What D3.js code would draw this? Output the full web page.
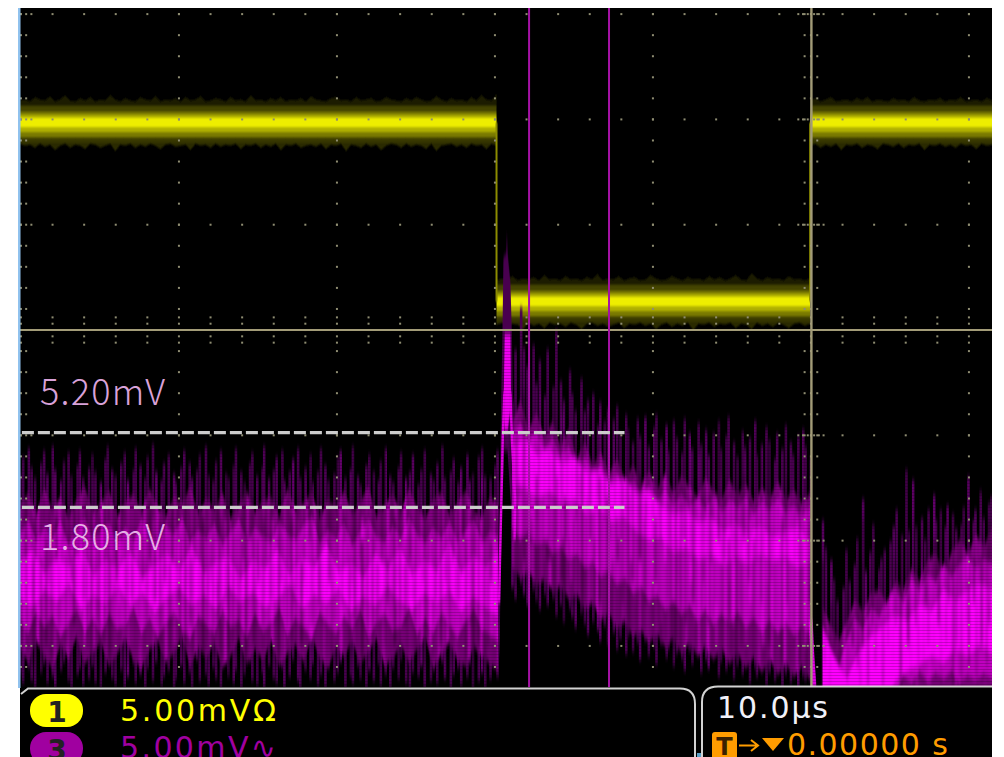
<!DOCTYPE html>
<html>
<head>
<meta charset="utf-8">
<script src="https://cdn.jsdelivr.net/npm/d3@7"></script>
<style>
html, body { margin: 0; background: #fff; overflow: hidden; }
svg { display: block; }
</style>
</head>
<body>
<svg id="scope"></svg>
<script>
// time is in us from the trigger, voltage is in mV above the bottom of the screen

// channel 1: flat levels, and how far the noise reaches above / below each level
const ch1High = 26.8;
const ch1Low = 18.3;
const ch1EdgeTimes = [-19.9, -0.05];
const ch1AUp = [1.05,1.1,1.0,1.2,1.1,1.05,1.25,1.0,1.1,1.3,1.05,1.0,1.15,1.05,1.2,1.0,1.1,1.05,1.3,1.1,1.0,1.15,1.05,1.0,1.2,1.1,1.05,1.25,1.0,1.1,1.05,1.15,1.0,1.2,1.05,1.1,1.25,1.0,1.05,1.15,1.1,1.0,1.2,1.05,1.1,1.0,1.3,1.05,1.1,1.0,1.15,1.05,1.2,1.0,1.1,1.05,1.15,1.0,1.25,1.1,1.05,1.0,1.15,1.2,1.05,1.1,1.0,1.2,1.05,1.1,1.15,1.0,1.05,1.2,1.1,1.05,1.0,1.15,1.05,1.2,1.1,1.0,1.05,1.25,1.1,1.0,1.15,1.05,1.1,1.0,1.2,1.05,1.3,1.1,1.05,1.35];
const ch1ADown = [1.0,1.1,1.05,1.2,1.0,1.15,1.05,1.3,1.1,1.0,1.2,1.05,1.1,1.25,1.0,1.05,1.2,1.1,1.0,1.35,1.05,1.1,1.0,1.2,1.05,1.15,1.0,1.1,1.25,1.05,1.0,1.15,1.1,1.05,1.3,1.0,1.1,1.05,1.2,1.0,1.15,1.05,1.1,1.0,1.25,1.05,1.1,1.0,1.2,1.05,1.15,1.0,1.3,1.05,1.1,1.0,1.2,1.1,1.05,1.15,1.0,1.25,1.05,1.1,1.0,1.35,1.05,1.1,1.2,1.0,1.15,1.05,1.3,1.1,1.0,1.05,1.2,1.0,1.15,1.05,1.1,1.25,1.0,1.35,1.1,1.05,1.0,1.15,1.05,1.2,1.0,1.1,1.05,1.25,1.0,1.1];
const ch1BUp = [1.0,1.1,1.05,1.2,1.0,1.1,1.05,1.15,1.0,1.25,1.05,1.1,1.0,1.2,1.05,1.1,1.0,1.15,1.05,1.3,1.0,1.1,1.05,1.2,1.0,1.1,1.15,1.0,1.05,1.25,1.1,1.0,1.05,1.2,1.1,1.0,1.15,1.05,1.1,1.0,1.2,1.05,1.15,1.0,1.1,1.25,1.05,1.0,1.35,1.1,1.0,1.15,1.05,1.1,1.0,1.2,1.05,1.1,1.0,1.1];
const ch1BDown = [1.1,1.0,1.2,1.05,1.1,1.3,1.0,1.15,1.05,1.25,1.0,1.1,1.05,1.2,1.0,1.1,1.3,1.05,1.0,1.15,1.05,1.2,1.1,1.0,1.25,1.05,1.1,1.0,1.15,1.05,1.3,1.1,1.0,1.2,1.05,1.15,1.0,1.35,1.05,1.1,1.0,1.2,1.05,1.1,1.0,1.25,1.05,1.1,1.3,1.0,1.15,1.05,1.2,1.0,1.1,1.25,1.05,1.0,1.15,1.05];
const ch1CUp = [1.05,1.15,1.0,1.1,1.2,1.0,1.05,1.1,1.0,1.15,1.05,1.2,1.0,1.1,1.05,1.0,1.15,1.05,1.1,1.0,1.2,1.05,1.0,1.1,1.05,1.15,1.0,1.1,1.05,1.2,1.0,1.05,1.1,1.0,1.15,1.05];
const ch1CDown = [1.1,1.0,1.2,1.05,1.15,1.0,1.3,1.05,1.1,1.0,1.2,1.05,1.1,1.25,1.0,1.05,1.15,1.0,1.2,1.05,1.1,1.0,1.3,1.05,1.1,1.0,1.15,1.05,1.2,1.0,1.1,1.05,1.25,1.0,1.1,1.05];

// channel 3, before the edge: four persistence levels, outer (faint) to core (bright)
const aOuterTop = [10.2,10.9,11.3,10.4,9.9,10.6,11.2,10.1,11.4,10.3,9.8,10.7,11.1,10.0,10.5,11.2,9.9,10.4,11.0,10.2,9.7,10.8,11.4,10.3,10.0,10.6,11.1,9.8,10.3,11.3,10.5,9.9,10.9,11.5,10.2,9.8,10.6,11.0,10.1,9.7,10.4,11.2,10.6,9.9,10.3,11.0,11.4,10.0,9.8,10.7,11.2,10.1,9.9,10.5,11.3,10.2,9.7,10.6,11.1,10.0,10.4,11.4,9.9,10.3,10.9,11.2,9.8,10.2,10.8,11.3,9.9,10.4,11.0,9.7,10.2,11.3,10.5,9.8,10.1,10.9,11.2,9.9,10.3,11.4,10.0,9.6,10.5,11.0,10.2,9.8,10.7,11.3,10.0,9.7,10.4,11.1,9.9,10.2,11.0,9.6,10.3,11.2,10.1,9.8,10.6,11.4,9.9,10.2,10.8,9.7,10.4,11.0,9.8,10.1,10.9,11.3,10.0,9.9,10.5,11.2];
const aOuterBot = [0.6,0.2,0.9,0.3,0,0.7,1.1,0.2,0.5,0,0.8,1.2,0.3,0,0.6,0.9,0.1,0.4,1.0,0.2,0,0.7,1.3,0.4,0.1,0.8,0,0.5,1.1,0.2,0.6,0,0.9,0.3,1.2,0.1,0.5,0.8,0,0.4,1.0,0.2,0.7,0,1.3,0.3,0.6,0.1,0.9,0.4,0,1.1,0.5,0.2,0.8,0,0.6,1.2,0.3,0.1,0.7,0,1.0,0.4,0.2,0.9,0,0.5,1.3,0.3,0,0.8,0.4,1.1,0.1,0.6,0,0.9,0.3,0.7,1.2,0,0.5,0.2,1.0,0.4,0,0.8,0.3,1.1,0.1,0.6,0,0.9,0.4,1.3,0.2,0,0.7,0.5,1.0,0,0.3,0.8,0.2,1.2,0.4,0,0.6,0.9,0.1,0.5,1.1,0,0.3,0.7,0,0.4,1.4,0.5];
const aMidTop = [8.6,9.2,8.2,9.4,8.4,9.0,8.0,8.9,9.5,8.3,8.7,9.3,8.1,8.8,9.1,8.3,9.4,8.5,8.1,9.0,8.7,9.5,8.2,8.9,8.4,9.2,8.0,8.6,9.3,8.3,8.8,9.0,8.1,9.4,8.4,8.7,9.2,8.0,8.9,8.5,9.3,8.2,8.8,9.5,8.1,8.6,9.1,8.3,9.4,8.5,8.0,8.9,9.2,8.2,8.7,9.3,8.4,8.0,9.0,8.6];
const aHighTop = [7.2,7.9,6.9,7.5,7.0,7.8,6.7,7.4,8.0,6.9,7.3,7.7,6.8,7.5,6.9,7.9,7.1,6.7,7.6,7.2,8.0,6.8,7.4,7.0,7.7,6.7,7.3,7.9,6.9,7.5,7.1,6.8,7.8,7.2,6.9,7.6,8.1,6.8,7.4,7.0,7.7,6.7,7.3,7.9,7.1,6.8,7.6,7.0,8.0,7.2,6.8,7.5,7.0,7.8,6.9,7.4,7.9,6.8,7.3,7.1];
const aCoreTop = [5.9,6.5,5.4,6.1,5.7,6.6,5.3,6.0,5.6,6.4,5.2,5.8,6.3,5.5,6.7,5.4,5.9,6.2,5.1,6.0,5.6,6.5,5.3,6.1,5.7,6.8,5.4,5.9,5.2,6.3,5.6,6.6,5.3,6.0,5.5,6.9,5.4,6.2,5.7,6.4];
const aCoreBot = [4.2,3.8,4.6,4.1,4.9,3.7,4.4,4.0,4.8,3.9,4.5,3.6,4.3,4.7,3.9,4.4,3.7,4.8,4.1,4.5,3.8,4.2,4.9,3.7,4.4,4.0,4.7,3.6,4.3,3.9,4.8,4.1,3.7,4.5,4.0,4.6,3.6,4.3,3.8,3.4];
const aHighBot = [3.2,2.6,3.6,2.9,3.4,2.4,3.1,3.7,2.7,3.3,2.5,3.5,2.8,3.0,3.8,2.6,3.3,2.4,3.1,3.6,2.8,2.3,3.4,3.0,2.6,3.7,2.9,3.2,2.4,3.5,2.7,3.1,3.8,2.5,3.3,2.9,2.3,3.6,3.0,2.6,3.4,2.8,3.7,2.4,3.1,3.5,2.7,2.9,3.8,2.5,3.3,2.6,3.6,3.0,2.4,3.2,3.7,2.8,2.5,2.2];
const aMidBot = [1.9,1.2,2.2,1.5,0.9,2.0,1.4,2.4,1.1,1.7,2.1,1.0,1.6,2.3,1.3,0.9,1.8,2.2,1.2,1.6,2.4,1.0,1.9,1.4,2.1,0.9,1.5,2.3,1.1,1.8,1.3,2.2,1.0,1.6,2.0,1.2,2.4,1.4,0.9,1.9,1.5,2.2,1.1,1.7,2.3,1.0,1.4,2.0,1.2,1.8,2.4,0.9,1.6,2.1,1.3,1.0,1.9,1.5,1.1,0.8];

// channel 3, relaxing after the edge
const bOuterTop = [13.6,16.0,18.0,16.1,15.2,16.2,14.4,15.5,13.8,16.0,14.2,16.9,14.5,13.6,15.0,13.9,13.1,14.6,13.1,13.6,13.9,12.4,13.5,12.6,13.2,12.7,13.3,12.0,12.9,12.2,11.6,12.7,11.9,12.8,11.4,12.3,12.9,11.7,12.4,11.2,12.6,11.8,11.1,12.7,12.0,11.3,12.5,11.5,12.2,11.0,12.0,12.6,11.3,11.9,12.8,11.6,10.9,12.1,11.4,11.8,12.6,11.0,11.5,12.3,11.7,10.8,12.0,11.3,12.4,11.6,11.0,11.9,12.2,11.4,10.9];
const bOuterBot = [4.7,4.2,4.9,4.4,3.9,4.6,4.1,3.7,4.4,3.9,4.2,3.4,3.9,3.1,3.7,3.3,2.8,3.5,3.0,2.5,3.1,2.7,2.2,2.9,2.0,2.6,1.8,2.3,1.6,2.4,1.7,2.1,1.3,2.2,1.5,1.9,1.1,2.0,1.4,1.8,1.0,1.6,1.3,0.8,1.7,1.1,1.5,0.7,1.3,0.9,1.6,0.5,1.2,0.8,1.4,0.4,1.0,0.6,1.2,0.2,0.9,0.5,1.1,0.1,0.7,0.3,0.9,0,0.6,0.2,0.8,0,0.5,0.3,0.7];
const bMidTop = [12.5,13.6,12.2,13.0,11.8,12.6,11.4,12.2,10.8,11.6,10.5,11.1,10.1,10.8,9.8,10.5,9.6,10.2,9.4,10.1,9.2,10.0,9.5,9.0,9.9,9.3,8.9,9.8,9.1,9.6,8.8,9.4,9.0,9.7,8.9,9.3,8.7,9.2];
const bHighTop = [12.0,12.5,11.7,12.1,11.3,11.8,10.9,11.4,10.4,10.9,10.1,10.5,9.7,10.1,9.3,9.8,9.1,9.5,8.8,9.3,8.6,9.1,8.5,8.9,8.4,9.0,8.3,8.8,8.5,9.0,8.2,8.7,8.4,8.9,8.3,8.6,8.1,8.5];
const bCoreTop = [11.4,11.8,11.0,11.3,10.6,10.9,10.2,10.3,9.6,9.9,9.2,9.3,8.6,8.2,8.4,7.8,8.0,7.4,7.7,7.3,7.6,7.1,7.4,7.5,7.0];
const bCoreBot = [9.6,9.5,9.0,9.3,8.8,8.9,8.2,8.5,7.9,8.1,7.4,7.0,7.1,6.4,6.6,6.1,6.3,5.8,6.2,5.9,6.3,6.0,6.2,5.7,6.0];
const bHighBot = [7.6,7.1,7.4,6.8,7.0,6.4,6.7,6.1,6.4,5.7,6.0,5.3,5.6,4.9,5.2,4.5,4.8,4.1,4.4,3.7,4.1,3.5,3.9,3.2,3.7,3.0,3.5,3.1,3.6,2.9,3.3,2.7,3.2,2.6,3.1,2.5,3.0,2.6];
const bMidBot = [5.7,5.2,5.5,4.9,5.1,4.6,4.8,4.2,4.4,3.7,4.0,3.2,3.5,2.8,3.1,2.4,2.7,2.1,2.5,1.9,2.3,1.6,2.1,1.5,1.9,1.3,1.8,1.1,1.6,0.9,1.4,0.7,1.3,0.6,1.1,0.5,1.0,0.3];

// channel 3, recovering after the rising edge
const cOuterTop = [7.9,6.6,6.0,5.1,4.1,4.7,6.5,5.0,5.8,7.0,8.9,5.5,6.4,7.7,5.6,6.1,6.5,6.9,7.6,8.4,7.2,10.3,7.4,9.8,7.6,8.0,7.0,8.4,9.1,7.9,8.4,7.6,8.6,8.2,7.5,7.7,8.5,10.0,7.9,8.4,9.3,8.0,8.7,9.0];
const cOuterBot = [-1];
const cMidTop = [3.7,2.9,2.2,3.1,4.1,3.6,4.4,4.6,3.9,5.0,4.6,5.6,5.0,6.0,6.3,5.4,6.4,7.0,6.3,7.2,6.7,7.5];
const cHighTop = [2.9,1.8,1.0,2.2,3.2,2.7,3.7,3.3,4.1,4.6,4.0,5.1,4.5,5.3,5.0,5.8,5.2,5.8,6.1,5.6,6.0,5.8];
const cCoreTop = [2.7,1.3,0.4,1.7,2.4,2.9,3.4,3.1,3.9,3.6,4.6,4.1,4.6,4.9,4.6];
const cHighBot = [-1,-1,-1,-1,-1,-1,-1,-0.5,-1,-0.5,0.6,0.2,0.8,0.3,0.7,0.4,0.8,0.2,0.6,0.3,0.7,0.4];
const cCoreBot = [-1,-1,-1,-1,-1,-1,0.3,0.8,1.1,1.5,1.2,1.8,1.5,2.0,1.6];

// fine vertical streaks in the persistence: darkness, brightness and span (mV)
const streakDark = [.35,.1,.5,.2,.05,.6,.3,.15,.45,.08,.55,.25,.4,.12,.65,.2,.05,.5,.33,.1,.42,.6,.15,.28,.07,.52,.36,.18,.62,.1,.3,.48,.05,.4,.22,.58,.12,.34,.66,.09,.44,.2,.54,.14,.38,.06,.6,.26,.46,.11,.32,.64,.16,.5,.04,.4,.24,.56,.13,.36,.68,.08,.3,.47,.19,.6,.1,.43,.27,.53,.06,.37,.62,.15,.49,.21,.34,.09,.57,.41,.12,.3,.66,.17,.45,.07,.52,.25,.39,.6,.11,.33,.48,.2,.58,.14,.42];
const streakTop = [13,9,11,7,12,8,14,10,6,12,9,13,7,11,8,14,10,12,6,9,13,11,7,12,10,8,14,9,11,6,13,8,12,10,7,14,9,11,8,12,10];
const streakBot = [2,5,0,7,3,1,6,4,0,8,2,5,1,3,6,0,4,7,2,0,5,3,1,6,0,4,2,7,1,5,3,0,6,2,4,1,0];
const streakBright = [.3,.6,.15,.45,.75,.2,.55,.1,.35,.8,.25,.5,.65,.12,.4,.7,.18,.58,.28,.85,.14,.48,.34,.62,.22,.78,.1,.52,.42,.68,.16,.36,.74,.26,.56,.2,.46,.82,.3,.12,.6,.38,.7,.24,.5,.15,.64,.32,.76,.44,.18,.54,.28,.8,.1,.4,.66,.22,.48,.72,.34,.14,.58,.26,.84,.42,.2,.52,.36,.68,.16];

// pulse at the falling edge, as [us, mV]
const pulseGlow = [[-19.52,17],[-19.46,20.4],[-19.28,20.6],[-19.24,21.6],[-19.2,20.6],[-19.02,19.2],[-18.92,16.5],[-18.85,13],[-18.6,9.5],[-18.55,6.5],[-18.82,4.7],[-18.98,8.5],[-19.2,11.2],[-19.42,11.2],[-19.6,7],[-19.72,1.2],[-19.8,4],[-19.62,13]];
const pulseCore = [[-19.38,16.7],[-19.02,16.7],[-18.98,13.4],[-19.2,12.2],[-19.38,12.2],[-19.45,13.4]];
const pulseLeft = [[-19.4,14],[-19.5,12],[-19.62,8],[-19.74,4]];
const pulseRight = [[-19.02,14],[-18.92,11.6],[-18.72,8.9],[-18.76,7.0]];
const recoveryStrip = [[-0.02,3.2],[0.08,1.6],[0.22,0]];

// cursors and readouts
const cursorTimes = [-17.84, -12.78];
const cursorLevels = [12.08, 8.53];
const cursorEnd = -11.8;
const gridMajorTimes = [-50, -40, -30, -20, -10, 0, 10];
const gridMajorLevels = [1.95, 6.95, 11.95, 16.95, 21.95, 26.95, 31.95];
const centreLevel = 16.95;

const W = 1004, H = 757;
const svg = d3.select('#scope').attr('width', W).attr('height', H);
const xScale = d3.scaleLinear().domain([-50.06, 11.46]).range([20, 992]);
const yScale = d3.scaleLinear().domain([0, 32.24]).range([687, 8]);

const defs = svg.append('defs');
function blurFilter(id, dev) {
    defs.append('filter').attr('id', id)
        .attr('x', '-3%').attr('y', '-5%').attr('width', '106%').attr('height', '110%')
        .append('feGaussianBlur').attr('stdDeviation', dev);
}
blurFilter('softYellow', '0.5 1.3');
blurFilter('tall', '0.5 3.2');
blurFilter('lines', '0.6 2');
blurFilter('streak', '0.8 4');
defs.append('clipPath').attr('id', 'screen').append('rect')
    .attr('x', 20).attr('y', 8).attr('width', 972).attr('height', 679);

const scan = defs.append('pattern').attr('id', 'scan')
    .attr('patternUnits', 'userSpaceOnUse').attr('width', 4).attr('height', 3);
scan.append('rect').attr('width', 4).attr('height', 1).attr('fill', '#000').attr('opacity', 0.2);

const ch1Stops = [[0, '#1e1e00'], [0.12, '#1e1e00'], [0.13, '#444400'], [0.25, '#444400'], [0.26, '#7a7a00'], [0.32, '#7a7a00'],
    [0.33, '#b0b000'], [0.39, '#b0b000'], [0.4, '#eeee00'], [0.6, '#eeee00'], [0.61, '#b0b000'], [0.71, '#b0b000'],
    [0.72, '#7a7a00'], [0.82, '#7a7a00'], [0.83, '#444400'], [1, '#2a2a00']];
function levelGradient(id, level) {
    let g = defs.append('linearGradient').attr('id', id).attr('gradientUnits', 'userSpaceOnUse')
        .attr('x1', 0).attr('x2', 0).attr('y1', yScale(level + 1.05)).attr('y2', yScale(level - 1.05));
    ch1Stops.forEach(s => g.append('stop').attr('offset', s[0]).attr('stop-color', s[1]));
}
levelGradient('ch1High', ch1High);
levelGradient('ch1Low', ch1Low);

svg.append('rect').attr('x', 20).attr('y', 8).attr('width', 972).attr('height', H - 8).attr('fill', '#000');

const pathLine = d3.line().x(d => xScale(d[0])).y(d => yScale(d[1]));

function spread(t0, t1, vals) {
    let step = d3.scaleLinear().domain([0, vals.length - 1]).range([t0, t1]);
    return vals.map((v, i) => [step(i), v]);
}

// closed shape between a top and a bottom series, lengths may differ
function bandPath(t0, t1, top, bot) {
    return pathLine(spread(t0, t1, top).concat(spread(t0, t1, bot).reverse())) + 'Z';
}

const screen = svg.append('g').attr('clip-path', 'url(#screen)');
// the clip makes its own blend context, the dodge below needs black inside it
screen.append('rect').attr('x', 20).attr('y', 8).attr('width', 972).attr('height', 679).attr('fill', '#000');
const yellow = screen.append('g').attr('filter', 'url(#softYellow)');

// channel 1
function drawLevel(t0, t1, level, up, down, fill) {
    yellow.append('path')
        .attr('d', bandPath(t0, t1, up.map(v => level + v), down.map(v => level - v)))
        .attr('fill', `url(#${fill})`);
}
drawLevel(-50.06, ch1EdgeTimes[0], ch1High, ch1AUp, ch1ADown, 'ch1High');
drawLevel(ch1EdgeTimes[0], ch1EdgeTimes[1], ch1Low, ch1BUp, ch1BDown, 'ch1Low');
drawLevel(ch1EdgeTimes[1], 11.46, ch1High, ch1CUp, ch1CDown, 'ch1High');
ch1EdgeTimes.forEach(t => {
    yellow.append('path')
        .attr('d', pathLine([[t, ch1High], [t, ch1Low]]))
        .attr('stroke', '#8c8c00').attr('stroke-width', 2).attr('fill', 'none');
});

// channel 3
const traces = screen.append('g').attr('filter', 'url(#tall)');
const outerColor = '#4a0650';
const layerColors = ['#760076', '#c000c0', '#ff00ff'];
const segmentA = [-50.06, -19.8];
const segmentB = [-18.9, -0.05];
const segmentC = [0.75, 11.46];
const zero = [-1, -1];

// the faintest level is separate thin spikes, not a filled shape
function drawSpikes(seg, top, bot) {
    spread(seg[0], seg[1], top).forEach((p, i) => {
        let jitter = (streakDark[i % streakDark.length] - 0.3) * 0.25;
        traces.append('path')
            .attr('d', pathLine([[p[0] + jitter, p[1]], [p[0] + jitter, bot[i % bot.length]]]))
            .attr('stroke', outerColor).attr('stroke-width', 2.6);
    });
}
traces.append('path').attr('d', pathLine(pulseGlow) + 'Z').attr('fill', outerColor);
drawSpikes(segmentA, aOuterTop, aOuterBot);
drawSpikes(segmentB, bOuterTop, bOuterBot);
drawSpikes(segmentC, cOuterTop, cOuterBot);

const layers = [
    [[segmentA, aMidTop, aMidBot], [segmentB, bMidTop, bMidBot], [segmentC, cMidTop, zero]],
    [[segmentA, aHighTop, aHighBot], [segmentB, bHighTop, bHighBot], [segmentC, cHighTop, cHighBot]],
    [[segmentA, aCoreTop, aCoreBot], [segmentB, bCoreTop, bCoreBot], [segmentC, cCoreTop, cCoreBot]]
];
layers.forEach((layer, i) => {
    layer.forEach(s => {
        traces.append('path')
            .attr('d', bandPath(s[0][0], s[0][1], s[1], s[2]))
            .attr('fill', layerColors[i]);
    });
});
traces.append('path').attr('d', pathLine(pulseCore) + 'Z').attr('fill', '#f000f0');

// streak texture, only ever darkens or brightens what is already lit
const darkTimes = d3.range(-50.06, 11.46, 0.16);
screen.append('g').attr('filter', 'url(#streak)').attr('opacity', 0.75)
    .selectAll('rect').data(darkTimes).join('rect')
    .attr('x', d => xScale(d)).attr('width', 2)
    .attr('y', (d, i) => yScale(streakTop[i % streakTop.length]))
    .attr('height', (d, i) => yScale(streakBot[i % streakBot.length]) - yScale(streakTop[i % streakTop.length]))
    .attr('fill', '#000').attr('opacity', (d, i) => streakDark[i % streakDark.length]);
const brightTimes = d3.range(-50.06, 11.46, 0.27);
screen.append('g').style('mix-blend-mode', 'color-dodge').attr('filter', 'url(#streak)')
    .selectAll('rect').data(brightTimes).join('rect')
    .attr('x', d => xScale(d)).attr('width', 2)
    .attr('y', (d, i) => yScale(streakTop[(i + 7) % streakTop.length]))
    .attr('height', (d, i) => yScale(streakBot[(i + 11) % streakBot.length]) - yScale(streakTop[(i + 7) % streakTop.length]))
    .attr('fill', '#888').attr('opacity', (d, i) => streakBright[i % streakBright.length]);

const pulseLines = screen.append('g').attr('filter', 'url(#lines)');
[pulseLeft, pulseRight, recoveryStrip].forEach(p => {
    pulseLines.append('path').attr('d', pathLine(p))
        .attr('fill', 'none').attr('stroke', '#e400e4').attr('stroke-width', p === recoveryStrip ? 4 : 2.4);
});

// scan lines over the channel 3 persistence
screen.append('rect').attr('x', 20).attr('y', yScale(centreLevel)).attr('width', 972)
    .attr('height', yScale(0) - yScale(centreLevel)).attr('fill', 'url(#scan)');

// graticule dots
const dots = [];
const allLevels = d3.range(0.95, 32, 1);
const allTimes = d3.range(-50, 11.5, 2);
gridMajorLevels.forEach(l => allTimes.forEach(t => dots.push([t, l])));
gridMajorTimes.forEach(t => allLevels.forEach(l => dots.push([t, l])));
allLevels.forEach(l => {
    dots.push([-49.67, l], [-0.4, l], [0.4, l]);
    if (gridMajorLevels.includes(l)) {
        dots.push([-49.34, l], [-0.8, l], [-0.5, l], [-0.2, l], [0.2, l], [0.5, l], [0.8, l]);
    }
});
allTimes.forEach(t => [-0.6, -0.3, 0.3, 0.6].forEach(o => dots.push([t, centreLevel + o])));
screen.append('g').selectAll('rect').data(dots).join('rect')
    .attr('x', d => xScale(d[0]) - 1).attr('y', d => yScale(d[1]) - 1)
    .attr('width', 2).attr('height', 2).attr('fill', '#8f8d72');

// centre axes
screen.append('path').attr('d', pathLine([[-50.06, centreLevel], [11.46, centreLevel]]))
    .attr('stroke', '#a39c78').attr('stroke-width', 2);
screen.append('path').attr('d', pathLine([[0.03, 0], [0.03, 32.24]]))
    .attr('stroke', '#a39c78').attr('stroke-width', 2.4);

// vertical cursors
cursorTimes.forEach(t => {
    screen.append('path').attr('d', pathLine([[t, 0], [t, 32.24]]))
        .attr('stroke', '#a512a5').attr('stroke-width', 2);
});

// annotations
cursorLevels.forEach(l => {
    svg.append('path').attr('d', pathLine([[-49.94, l], [cursorEnd, l]]))
        .attr('stroke', '#cccccc').attr('stroke-width', 3.4).attr('stroke-dasharray', '12,4');
});
const noteFont = '"Noto Sans CJK JP", "Noto Sans", sans-serif';
svg.append('text').text('5.20mV').attr('x', 40).attr('y', 405)
    .attr('font-family', noteFont).attr('font-weight', 300).attr('font-size', 36)
    .attr('textLength', 125).attr('fill', '#d9a2d9');
svg.append('text').text('1.80mV').attr('x', 40).attr('y', 550)
    .attr('font-family', noteFont).attr('font-weight', 300).attr('font-size', 36)
    .attr('textLength', 125).attr('fill', '#e6aee6');

// left edge and bottom panels
svg.append('rect').attr('x', 18).attr('y', 8).attr('width', 2.5).attr('height', 680).attr('fill', '#90c2ee');
svg.append('rect').attr('x', 20).attr('y', 688).attr('width', 972).attr('height', H - 688).attr('fill', '#000');
const panelLine = { fill: 'none', stroke: '#d2d2d2', 'stroke-width': 2 };
function panel(d) {
    let p = svg.append('path').attr('d', d);
    Object.keys(panelLine).forEach(k => p.attr(k, panelLine[k]));
}
panel('M21,694 L28,688.5 H680 Q695,688.5 695,704 V757');
panel('M702,757 V702 Q702,686.5 718,686.5 H992');

const panelFont = '"DejaVu Sans", sans-serif';
function label(s, x, y, len, color, size) {
    return svg.append('text').text(s).attr('x', x).attr('y', y)
        .attr('font-family', panelFont).attr('font-size', size)
        .attr('textLength', len).attr('fill', color);
}
svg.append('rect').attr('x', 30).attr('y', 694).attr('width', 53).attr('height', 33).attr('rx', 16).attr('fill', '#ffff00');
svg.append('text').text('1').attr('x', 57).attr('y', 722).attr('text-anchor', 'middle')
    .attr('font-family', panelFont).attr('font-weight', 'bold').attr('font-size', 28).attr('fill', '#222');
label('5.00mVΩ', 120, 721, 156, '#ffff00', 30);
svg.append('rect').attr('x', 30).attr('y', 732).attr('width', 53).attr('height', 33).attr('rx', 16).attr('fill', '#a000a0');
svg.append('text').text('3').attr('x', 57).attr('y', 760).attr('text-anchor', 'middle')
    .attr('font-family', panelFont).attr('font-weight', 'bold').attr('font-size', 28).attr('fill', '#222');
label('5.00mV∿', 120, 758, 156, '#a000a0', 30);

label('10.0µs', 717, 718, 111, '#f0f0f8', 30);
svg.append('rect').attr('x', 712).attr('y', 732).attr('width', 25).attr('height', 30).attr('rx', 3).attr('fill', '#ff9c00');
svg.append('text').text('T').attr('x', 724.5).attr('y', 755).attr('text-anchor', 'middle')
    .attr('font-family', panelFont).attr('font-weight', 'bold').attr('font-size', 24).attr('fill', '#3a2000');
svg.append('path').attr('d', 'M739,745.5 H757 M751,740 L758,745.5 L751,751').attr('stroke', '#ff9c00').attr('stroke-width', 2).attr('fill', 'none');
svg.append('path').attr('d', 'M762,738 H784 L773,751 Z').attr('fill', '#ff9c00');
label('0.00000 s', 787, 755, 161, '#ff9c00', 30);
svg.append('rect').attr('x', 697).attr('y', 753).attr('width', 4).attr('height', 4).attr('fill', '#5aa0c8');
</script>
</body>
</html>
